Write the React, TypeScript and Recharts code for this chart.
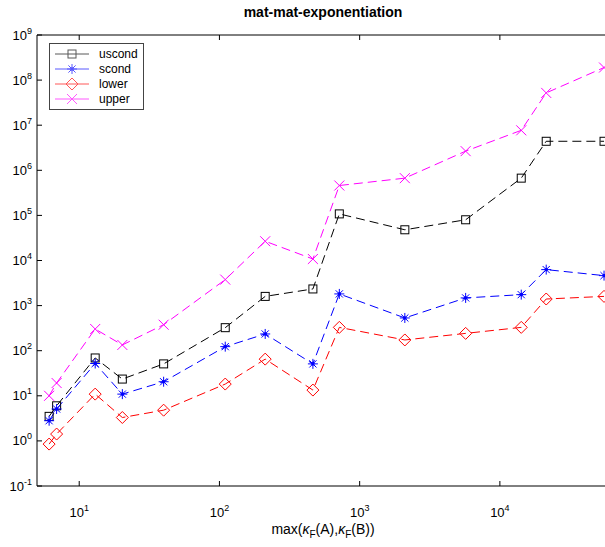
import React from 'react';
import { LineChart, Line, XAxis, YAxis, ReferenceLine, Legend } from 'recharts';

// values (log-log)
const xs = [6.1, 6.9, 13, 20.3, 40, 110, 212, 464, 716, 2100, 5700, 14200, 21400, 55300];
const uscond = [3.5, 6.0, 69, 23.5, 51, 324, 1600, 2340, 1.08e5, 4.8e4, 8.0e4, 6.7e5, 4.4e6, 4.4e6];
const scond = [2.8, 5.1, 52, 10.9, 20.5, 123, 235, 51, 1815, 532, 1480, 1750, 6280, 4620];
const lower = [0.85, 1.42, 10.9, 3.3, 4.8, 18.2, 65, 13.4, 329, 173, 242, 329, 1400, 1600];
const upper = [10, 19.2, 303, 134, 377, 3770, 2.67e4, 1.08e4, 4.6e5, 6.7e5, 2.66e6, 7.7e6, 5.2e7, 1.9e8];

const xTicks = [10, 100, 1000, 10000];
const yTicks = [0.1, 1, 10, 100, 1e3, 1e4, 1e5, 1e6, 1e7, 1e8, 1e9];

const data = xs.map((x, i) => ({
  x,
  uscond: uscond[i],
  scond: scond[i],
  lower: lower[i],
  upper: upper[i],
}));

const series = [
  { key: 'uscond', color: '#000000', shape: 'square' },
  { key: 'scond', color: '#0000ff', shape: 'star' },
  { key: 'lower', color: '#ff0000', shape: 'diamond' },
  { key: 'upper', color: '#ff00ff', shape: 'cross' },
];

const FONT = '"Liberation Sans", Arial, Helvetica, sans-serif';
const PLOT_LEFT = 37;
const PLOT_TOP = 35;
const PLOT_BOTTOM = 486;

const Marker = ({ shape, cx, cy, color }: any) => {
  if (cx == null || cy == null) return null;
  if (shape === 'square') {
    return <rect x={cx - 4} y={cy - 4} width={8} height={8} fill="none" stroke={color} strokeWidth={1} />;
  }
  if (shape === 'diamond') {
    const r = 6;
    return (
      <polygon
        points={`${cx},${cy - r} ${cx + r},${cy} ${cx},${cy + r} ${cx - r},${cy}`}
        fill="none"
        stroke={color}
        strokeWidth={1}
      />
    );
  }
  if (shape === 'cross') {
    const r = 5;
    return (
      <g stroke={color} strokeWidth={1}>
        <line x1={cx - r} y1={cy - r} x2={cx + r} y2={cy + r} />
        <line x1={cx - r} y1={cy + r} x2={cx + r} y2={cy - r} />
      </g>
    );
  }
  // asterisk
  const r = 5;
  const d = 3.6;
  return (
    <g stroke={color} strokeWidth={1}>
      <line x1={cx - r} y1={cy} x2={cx + r} y2={cy} />
      <line x1={cx} y1={cy - r} x2={cx} y2={cy + r} />
      <line x1={cx - d} y1={cy - d} x2={cx + d} y2={cy + d} />
      <line x1={cx - d} y1={cy + d} x2={cx + d} y2={cy - d} />
      <circle cx={cx} cy={cy} r={1.3} fill={color} />
    </g>
  );
};

const YTick = ({ y, payload }: any) => {
  const e = Math.round(Math.log10(payload.value));
  return (
    <g>
      <line x1={PLOT_LEFT} x2={PLOT_LEFT + 5} y1={y} y2={y} stroke="#000" />
      <text x={32} y={y + 4.5} textAnchor="end" fontFamily={FONT} fontSize={13} fill="#000">
        10
        <tspan dy={-6} fontSize={9}>{e}</tspan>
      </text>
    </g>
  );
};

const XTick = ({ payload }: any) => {
  const x = payload.coordinate;
  const e = Math.round(Math.log10(payload.value));
  return (
    <g>
      <line x1={x} x2={x} y1={PLOT_BOTTOM} y2={PLOT_BOTTOM - 5} stroke="#000" />
      <line x1={x} x2={x} y1={PLOT_TOP} y2={PLOT_TOP + 5} stroke="#000" />
      <text x={x} y={517} textAnchor="middle" fontFamily={FONT} fontSize={13} fill="#000">
        10
        <tspan dy={-6} fontSize={9}>{e}</tspan>
      </text>
    </g>
  );
};

const LegendBox = () => (
  <svg width={96} height={68} style={{ display: 'block' }}>
    <rect x={0.5} y={0.5} width={94} height={66} fill="#fff" stroke="#444" />
    {series.map((s, i) => {
      const y = 11 + i * 15;
      return (
        <g key={s.key} opacity={0.65}>
          <line x1={6} x2={40} y1={y} y2={y} stroke={s.color} />
          <Marker shape={s.shape} cx={23} cy={y} color={s.color} />
        </g>
      );
    })}
    {series.map((s, i) => (
      <text key={s.key + 't'} x={50} y={15 + i * 15} fontFamily={FONT} fontSize={12} fill="#000">
        {s.key}
      </text>
    ))}
  </svg>
);

export default function App() {
  return (
    <div
      style={{
        position: 'fixed',
        left: 0,
        top: 0,
        width: 605,
        height: 547,
        overflow: 'hidden',
        background: '#fff',
      }}
    >
      <div
        style={{
          position: 'absolute',
          left: 0,
          width: 646,
          top: 4,
          textAlign: 'center',
          fontFamily: FONT,
          fontWeight: 'bold',
          fontSize: 14,
        }}
      >
        mat-mat-exponentiation
      </div>
      <LineChart width={620} height={547} data={data} margin={{ top: PLOT_TOP, right: 11, bottom: 0, left: 0 }}>
        <XAxis
          dataKey="x"
          type="number"
          scale="log"
          domain={[5, 60000]}
          ticks={xTicks}
          height={61}
          tickLine={false}
          axisLine={{ stroke: '#000' }}
          tick={<XTick />}
          interval={0}
          allowDataOverflow
        />
        <YAxis
          type="number"
          scale="log"
          domain={[0.1, 1e9]}
          ticks={yTicks}
          width={37}
          tickLine={false}
          axisLine={{ stroke: '#000' }}
          tick={<YTick />}
          interval={0}
          allowDataOverflow
        />
        <ReferenceLine y={1e9} stroke="#000" />
        <Legend
          layout="vertical"
          align="center"
          verticalAlign="middle"
          wrapperStyle={{ left: 49, top: 43, width: 96 }}
          content={() => <LegendBox />}
        />
        {series.map((s) => (
          <Line
            key={s.key}
            type="linear"
            dataKey={s.key}
            stroke={s.color}
            strokeWidth={1}
            strokeDasharray="9 5"
            dot={(p: any) => <Marker key={s.key + p.index} shape={s.shape} cx={p.cx} cy={p.cy} color={s.color} />}
            activeDot={false}
            isAnimationActive={false}
          />
        ))}
      </LineChart>
      <div
        style={{
          position: 'absolute',
          left: 0,
          width: 646,
          top: 521,
          textAlign: 'center',
          fontFamily: FONT,
          fontSize: 14,
          lineHeight: '16px',
        }}
      >
        max(<i>κ</i>
        <sub style={{ fontSize: 10 }}>F</sub>(A),<i>κ</i>
        <sub style={{ fontSize: 10 }}>F</sub>(B))
      </div>
    </div>
  );
}
